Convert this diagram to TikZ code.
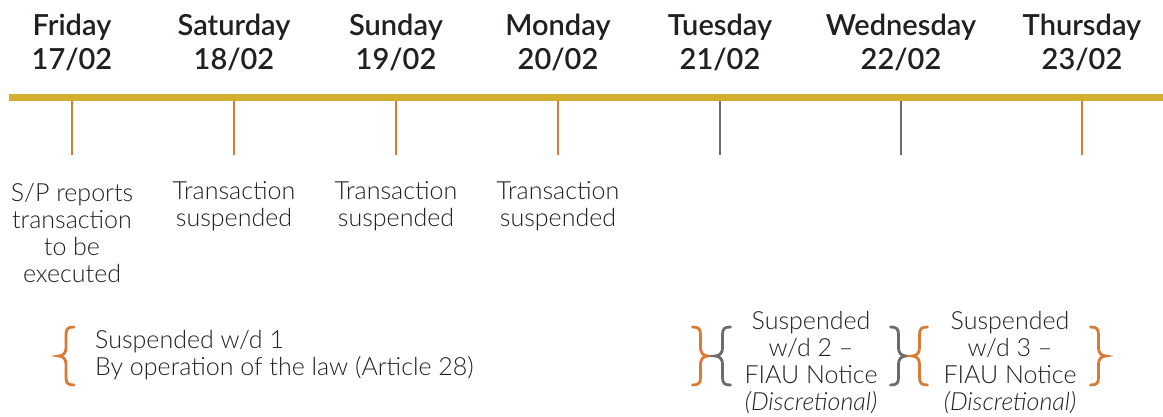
\documentclass[tikz,border=0pt]{standalone}
\usepackage{fontspec}
\setmainfont{Lato}[UprightFont=* Light, BoldFont=* Semibold, ItalicFont=* Light Italic]
\definecolor{goldC}{HTML}{D4AF2F}
\definecolor{orangeC}{HTML}{D97B35}
\definecolor{greyC}{HTML}{6B6B6B}
\definecolor{txtC}{HTML}{231F20}
\begin{document}
\begin{tikzpicture}[x=1pt,y=-1pt,
  day/.style={inner sep=0pt, align=center, text=txtC, font=\fontsize{29}{34}\selectfont\bfseries},
  body/.style={inner sep=0pt, align=center, text=txtC, font=\fontsize{25}{27}\selectfont},
  tickO/.style={draw=orangeC, line width=1.6pt},
  tickG/.style={draw=greyC, line width=1.6pt},
  bracepath/.style={line width=2.8pt, line cap=round},
  lbrace/.pic={\draw[bracepath]
     (8,-29) .. controls (1.5,-29) and (0,-27) .. (0,-21) -- (0,-8)
     .. controls (0,-3) and (-3,0) .. (-7.5,0)
     .. controls (-3,0) and (0,3) .. (0,8) -- (0,21)
     .. controls (0,27) and (1.5,29) .. (8,29);},
  rbrace/.pic={\draw[bracepath]
     (-8,-29) .. controls (-1.5,-29) and (0,-27) .. (0,-21) -- (0,-8)
     .. controls (0,-3) and (3,0) .. (7.5,0)
     .. controls (3,0) and (0,3) .. (0,8) -- (0,21)
     .. controls (0,27) and (-1.5,29) .. (-8,29);}
]
\useasboundingbox (0,0) rectangle (1163,416);
% gold bar
\draw[goldC, line width=7pt] (9,97.5) coordinate (barL) -- (1163,97.5) coordinate (barR);
% day labels
\node[day] (fri) at (72,42.5) {Friday\\17/02};
\node[day] (sat) at (234,42.5) {Saturday\\18/02};
\node[day] (sun) at (396,42.5) {Sunday\\19/02};
\node[day] (mon) at (558,42.5) {Monday\\20/02};
\node[day] (tue) at (720,42.5) {Tuesday\\21/02};
\node[day] (wed) at (901,42.5) {Wednesday\\22/02};
\node[day] (thu) at (1082,42.5) {Thursday\\23/02};
% ticks
\foreach \n/\x/\s in {fri/72/tickO, sat/234/tickO, sun/396/tickO, mon/558/tickO, tue/720/tickG, wed/901/tickG, thu/1082/tickO}{
  \coordinate (\n-t) at (\x,101);
  \coordinate (\n-b) at (\x,155);
  \draw[\s] (\n-t) -- (\n-b);
}
% event texts
\node[body] (e1) at (72,232.5) {S/P reports\\transaction\\to be\\executed};
\node[body] (e2) at (234,206.5) {Transaction\\suspended};
\node[body] (e3) at (396,206.5) {Transaction\\suspended};
\node[body] (e4) at (558,206.5) {Transaction\\suspended};
% group 1
\pic[orangeC] at (66,356) {lbrace};
\node[body, align=left, anchor=west] (g1) at (95,355.5) {Suspended w/d 1\\By operation of the law (Article 28)};
% group 2 and 3
\pic[orangeC] at (700.5,356) {rbrace};
\pic[greyC] at (722.5,356) {lbrace};
\node[body] (g2) at (811,362.5) {Suspended\\w/d 2 --\\FIAU Notice\\\textit{(Discretional)}};
\pic[greyC] at (898.5,356) {rbrace};
\pic[orangeC] at (919.5,356) {lbrace};
\node[body] (g3) at (1010,362.5) {Suspended\\w/d 3 --\\FIAU Notice\\\textit{(Discretional)}};
\pic[orangeC] at (1098.5,356) {rbrace};
\end{tikzpicture}
\end{document}
